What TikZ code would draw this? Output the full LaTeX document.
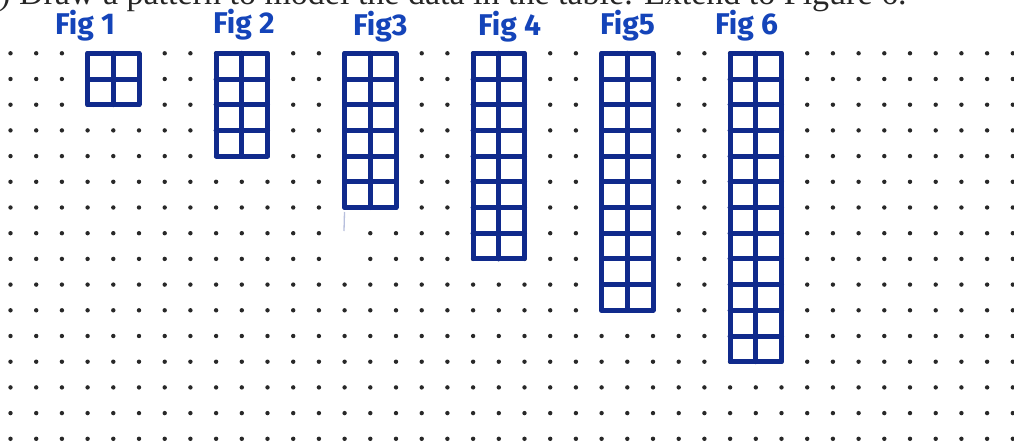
\documentclass[tikz,border=0pt]{standalone}
\usepackage{fontspec}
\setmainfont{Liberation Serif}
\newfontfamily\handfont{Fira Sans}
\definecolor{ink}{RGB}{16,42,140}
\definecolor{labelink}{RGB}{20,68,185}
\definecolor{dotc}{RGB}{40,40,40}
\tikzset{
  figline/.style={draw=ink, line width=5pt, line cap=round, line join=round},
  griddot/.style={fill=dotc, draw=none},
  figlabel/.style={anchor=base west, inner sep=0pt, text=labelink, font=\handfont\bfseries\fontsize{30}{32}\selectfont},
  headtext/.style={anchor=base west, inner sep=0pt, text=black!85, font=\fontsize{34}{38}\selectfont}
}
\begin{document}
\begin{tikzpicture}[x=1pt,y=-1pt]
\useasboundingbox (0,0) rectangle (1014,444);
\clip (0,0) rectangle (1014,444);
\fill[white] (0,0) rectangle (1014,444);
% heading line, cut off at the top
\node[headtext] (head) at (-1,5) {) Draw a pattern to model the data in the table. Extend to Figure 6.};
% dot grid
\foreach \c in {0,...,39}{
  \foreach \r in {0,...,15}{
    \pgfmathtruncatemacro\skipdot{(\c==13)&&(\r>6)&&(\r<9)}
    \ifnum\skipdot=0
      \fill[griddot] ({10.5+25.7*\c},{53.3+25.7*\r}) circle (2.2);
    \fi
  }
}
% figures: 2 columns by n rows
\foreach \c/\n in {3/2,8/4,13/6,18/8,23/10,28/12}{
  \pgfmathsetmacro\xa{10.5+25.7*\c}
  \pgfmathsetmacro\xm{\xa+25.7}
  \pgfmathsetmacro\xb{\xa+51.4}
  \pgfmathsetmacro\ya{53.3}
  \pgfmathsetmacro\yb{53.3+25.7*\n}
  \fill[white] (\xa,\ya) rectangle (\xb,\yb);
  \draw[figline] (\xa,\ya) rectangle (\xb,\yb);
  \draw[figline] (\xm,\ya) -- (\xm,\yb);
  \pgfmathtruncatemacro\nm{\n-1}
  \foreach \k in {1,...,\nm}{
    \draw[figline] (\xa,{53.3+25.7*\k}) -- (\xb,{53.3+25.7*\k});
  }
}
% faint stray stroke under Fig 3
\draw[draw=ink!30, line width=1.3pt] (344.5,212) -- (344,231);
% labels
\node[figlabel] (l1) at (55,35) {Fig 1};
\node[figlabel] (l2) at (213,34) {Fig 2};
\node[figlabel] (l3) at (353,36) {Fig3};
\node[figlabel] (l4) at (478,36) {Fig 4};
\node[figlabel] (l5) at (600,35) {Fig5};
\node[figlabel] (l6) at (715,35) {Fig 6};
\end{tikzpicture}
\end{document}
